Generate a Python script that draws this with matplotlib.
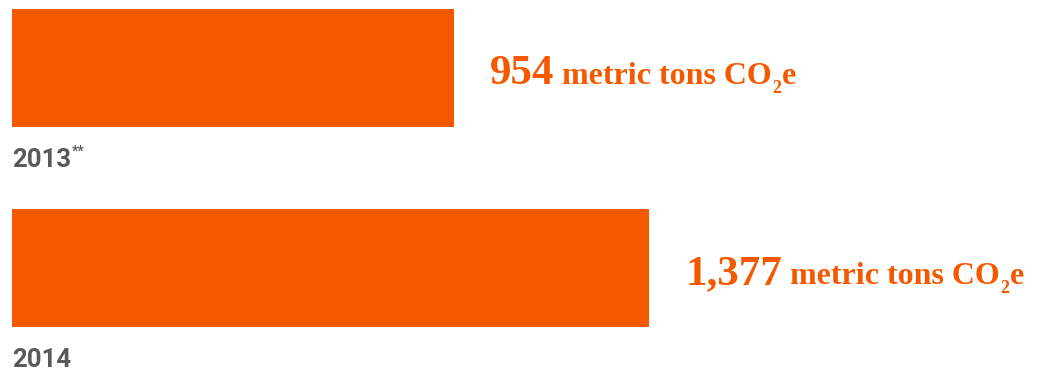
import matplotlib
matplotlib.use("Agg")
import matplotlib.pyplot as plt

years = ["2013", "2014"]
year_marks = ["**", ""]
emissions = [954, 1377]
value_labels = ["954", "1,377"]

ORANGE = "#f55900"
GREY = "#595959"

W, H = 1037, 371
fig = plt.figure(figsize=(W / 100, H / 100), dpi=100)
ax = fig.add_axes([0, 0, 1, 1])
ax.axis("off")

# x scale: value 0 sits 12 px from the left edge, ~0.463 px per tonne
px_per_unit = 0.4629
x0_px = 12
ax.set_xlim(-x0_px / px_per_unit, (W - x0_px) / px_per_unit)
# y: one category every 200 px, first bar centred at 68 px from top
ax.set_ylim((H - 68) / 200, -68 / 200)

pos = list(range(len(years)))
ax.barh(pos, emissions, height=0.59, color=ORANGE, left=0)

fig.canvas.draw()
r = fig.canvas.get_renderer()

num_font = dict(family="Liberation Serif", weight="bold", color=ORANGE)
year_font = dict(family="Roboto", weight="bold", color=GREY)

for i, (val, lab) in enumerate(zip(emissions, value_labels)):
    # bar end in display pixels
    bx, by = ax.transData.transform((val, i))
    base_y = by - 16          # label baseline
    x = bx + 36
    t = fig.text(x, base_y, lab, transform=None, fontsize=31, va="baseline", **num_font)
    x = t.get_window_extent(r).x1 + 8
    t = fig.text(x, base_y, "metric tons CO", transform=None, fontsize=23,
                 va="baseline", **num_font)
    x = t.get_window_extent(r).x1 + 0.5
    t = fig.text(x, base_y - 9, "2", transform=None, fontsize=13, va="baseline", **num_font)
    x = t.get_window_extent(r).x1 + 0.5
    fig.text(x, base_y, "e", transform=None, fontsize=23, va="baseline", **num_font)

    # year label under the bar
    lx, _ = ax.transData.transform((0, i))
    yb = by - 99
    t = fig.text(lx, yb, years[i], transform=None, fontsize=18.5, va="baseline", **year_font)
    if year_marks[i]:
        ex = t.get_window_extent(r)
        fig.text(ex.x1 + 1, yb + 11, year_marks[i], transform=None, fontsize=10,
                 va="baseline", **year_font)

fig.savefig("out.png", dpi=100, facecolor="white")
